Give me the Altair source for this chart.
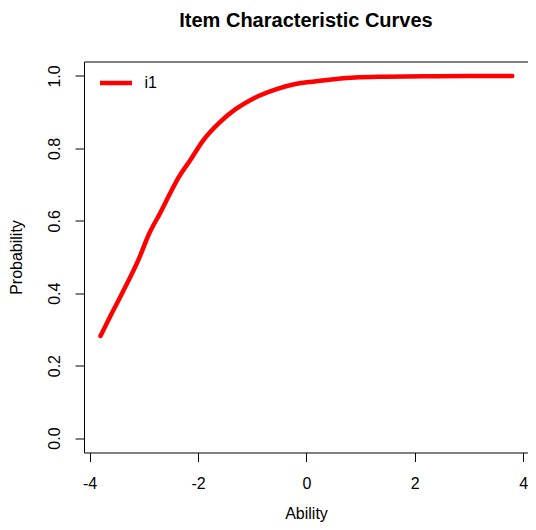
import altair as alt
import pandas as pd

ability = [-3.8, -3.6, -3.4, -3.1, -2.9, -2.7, -2.5, -2.35, -2.15, -1.9, -1.6,
           -1.3, -0.95, -0.55, -0.2, 0.15, 0.5, 0.9, 1.45, 2.2, 3.0, 3.8]
probability = [0.282, 0.342, 0.400, 0.492, 0.565, 0.621, 0.680, 0.722, 0.766,
               0.823, 0.872, 0.909, 0.940, 0.964, 0.978, 0.985, 0.991, 0.996,
               0.998, 0.999, 1.0, 1.0]
item = ["i1"] * len(ability)

x_ticks = [-4, -2, 0, 2, 4]
y_ticks = [0.0, 0.2, 0.4, 0.6, 0.8, 1.0]

df = pd.DataFrame({"Ability": ability, "Probability": probability, "item": item})

FONT = "Liberation Sans"

chart = alt.Chart(df).mark_line(
    strokeWidth=4.5, strokeCap="round", strokeJoin="round", interpolate="monotone"
).encode(
    x=alt.X("Ability:Q",
            scale=alt.Scale(domain=[-4.104, 4.09], nice=False, zero=False),
            axis=alt.Axis(values=x_ticks, labelExpr="'' + datum.value",
                          title="Ability", titleY=60.5, titleBaseline="middle",
                          labelBaseline="middle", labelPadding=21.5)),
    y=alt.Y("Probability:Q",
            scale=alt.Scale(domain=[-0.04, 1.04], nice=False, zero=False),
            axis=alt.Axis(values=y_ticks, format=".1f", labelAngle=-90,
                          labelAlign="center", labelBaseline="middle",
                          labelPadding=20.5, title="Probability", titleX=-63,
                          titleY=195.5, titleAngle=-90, titleAlign="center",
                          titleBaseline="alphabetic")),
    color=alt.Color("item:N", scale=alt.Scale(range=["#FF0000"]),
                    legend=alt.Legend(title=None, orient="none", legendX=13.5, legendY=3,
                                      symbolType="stroke", symbolSize=1024,
                                      symbolStrokeWidth=4.5, labelFontSize=16,
                                      labelFont=FONT, labelColor="black",
                                      labelOffset=10, padding=0)),
).properties(
    width=444, height=391,
    background="white",
    title=alt.TitleParams("Item Characteristic Curves", font=FONT, fontSize=20,
                          fontWeight="bold", color="black", anchor="middle",
                          baseline="alphabetic", offset=15),
    autosize=alt.AutoSizeParams(type="none"),
    padding={"left": 76, "top": 53.5, "right": 0, "bottom": 69.5},
).configure_view(
    stroke="black", strokeWidth=1
).configure_axis(
    grid=False, domain=False, tickColor="black", tickSize=9, tickWidth=1,
    labelFont=FONT, labelFontSize=16, labelColor="black",
    titleFont=FONT, titleFontSize=16, titleColor="black", titleFontWeight="normal",
)

chart.save("out.html", embed_options={"renderer": "svg", "actions": False})
